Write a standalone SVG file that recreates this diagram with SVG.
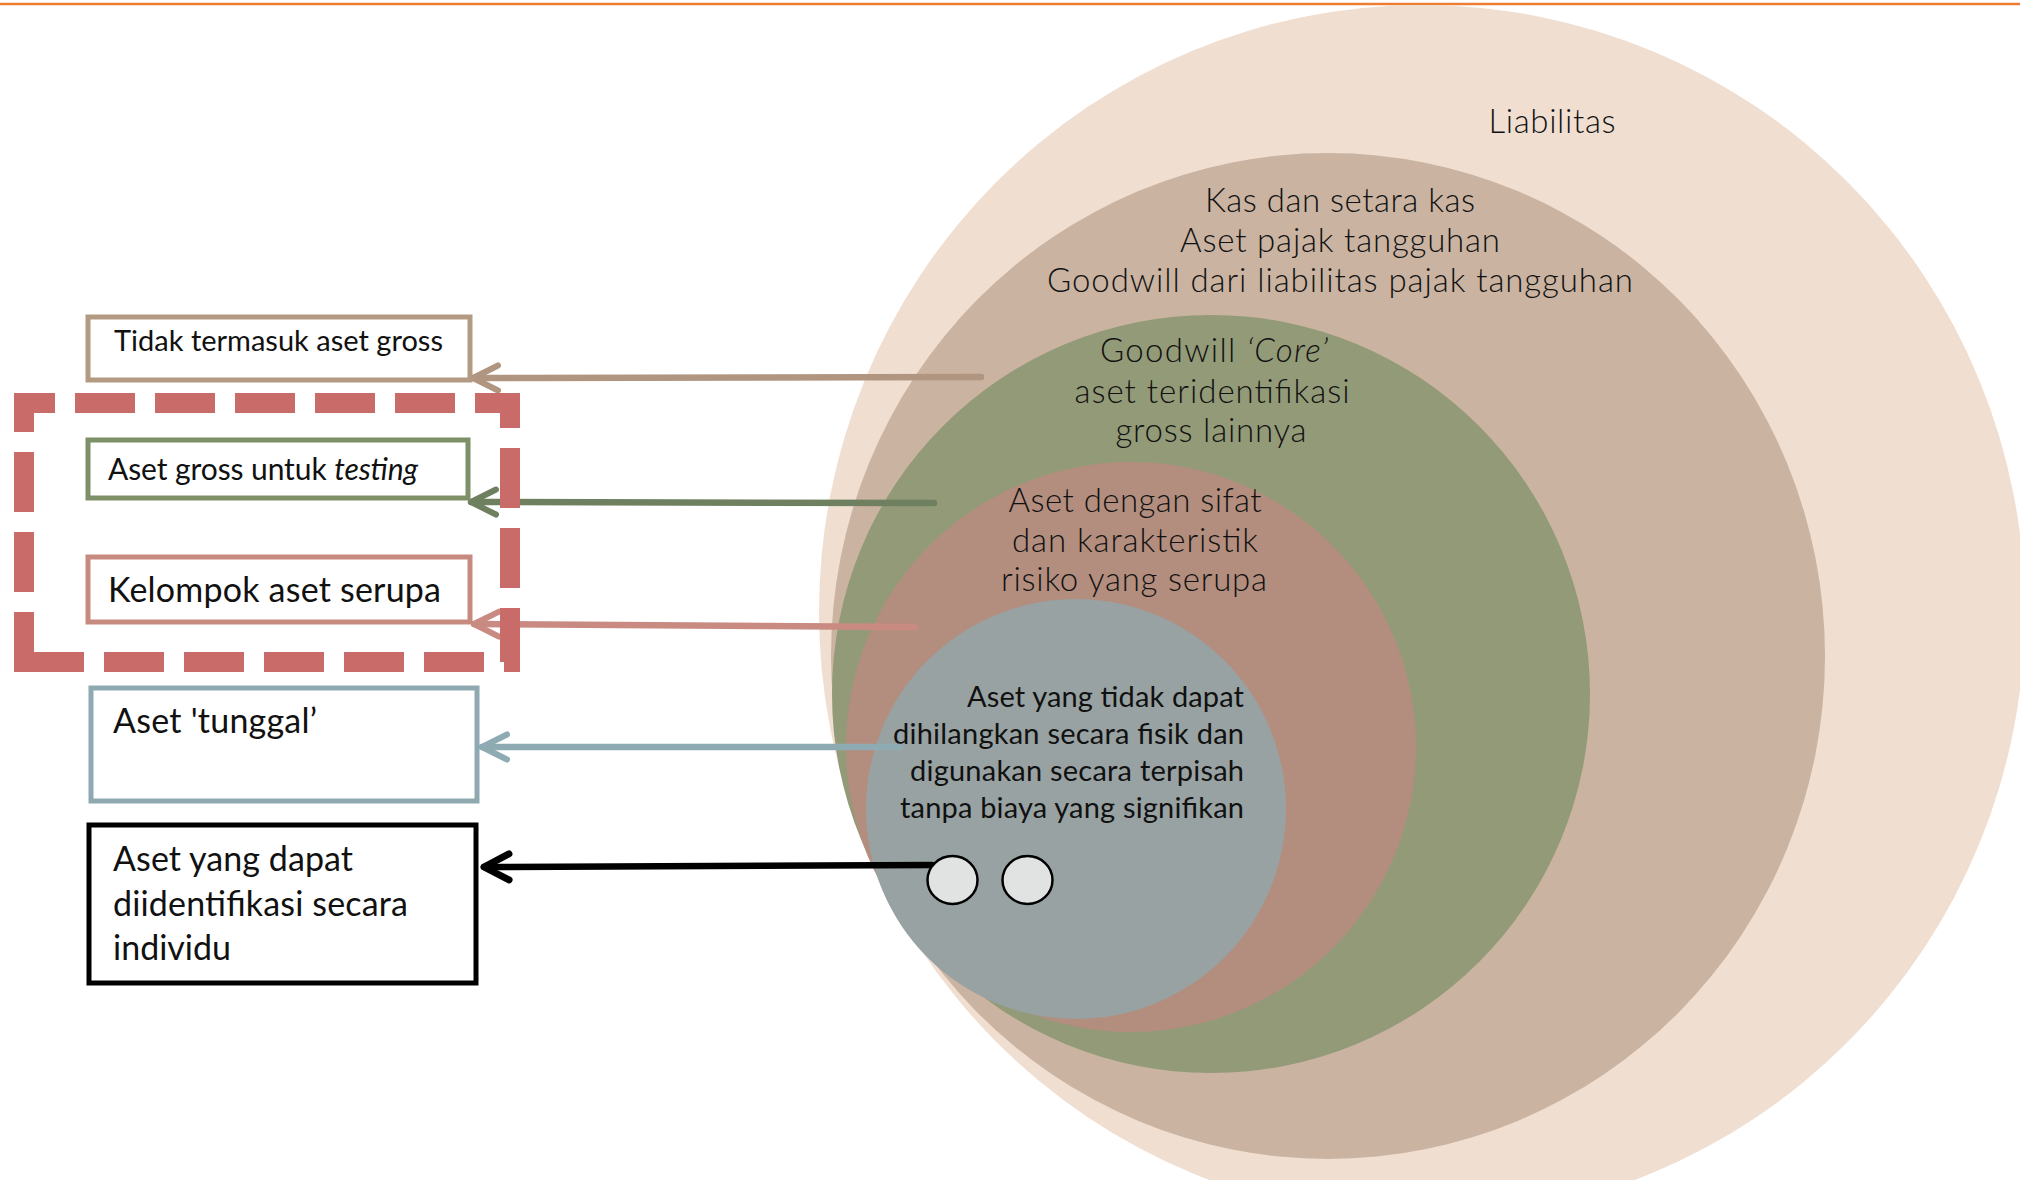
<svg xmlns="http://www.w3.org/2000/svg" width="2020" height="1180" viewBox="0 0 2020 1180">
<style>
.t{font-family:Lato,"Open Sans","Liberation Sans",sans-serif;fill:#111;}
.c{font-family:Lato,"Open Sans","Liberation Sans",sans-serif;fill:#111;font-size:33px;font-weight:300;text-anchor:middle;}
.box{fill:#fff;stroke-width:5;}
.conn{fill:none;stroke-width:6.5;stroke-linecap:round;}
</style>
<defs>
<marker id="mTan" viewBox="-32 -18 36 36" refX="0" refY="0" markerWidth="36" markerHeight="36" markerUnits="userSpaceOnUse" orient="auto"><path d="M-25,-12.5 L0,0 L-25,12.5" fill="none" stroke="#B09680" stroke-width="6" stroke-linecap="round" stroke-linejoin="round"/></marker>
<marker id="mGreen" viewBox="-32 -18 36 36" refX="0" refY="0" markerWidth="36" markerHeight="36" markerUnits="userSpaceOnUse" orient="auto"><path d="M-25,-12.5 L0,0 L-25,12.5" fill="none" stroke="#6F8060" stroke-width="6" stroke-linecap="round" stroke-linejoin="round"/></marker>
<marker id="mPink" viewBox="-32 -18 36 36" refX="0" refY="0" markerWidth="36" markerHeight="36" markerUnits="userSpaceOnUse" orient="auto"><path d="M-25,-12.5 L0,0 L-25,12.5" fill="none" stroke="#C98A82" stroke-width="6" stroke-linecap="round" stroke-linejoin="round"/></marker>
<marker id="mBlue" viewBox="-32 -18 36 36" refX="0" refY="0" markerWidth="36" markerHeight="36" markerUnits="userSpaceOnUse" orient="auto"><path d="M-25,-12.5 L0,0 L-25,12.5" fill="none" stroke="#8EAAB2" stroke-width="6" stroke-linecap="round" stroke-linejoin="round"/></marker>
<marker id="mBlack" viewBox="-32 -18 36 36" refX="0" refY="0" markerWidth="36" markerHeight="36" markerUnits="userSpaceOnUse" orient="auto"><path d="M-25,-13 L0,0 L-25,13" fill="none" stroke="#000" stroke-width="7" stroke-linecap="round" stroke-linejoin="round"/></marker>
</defs>
<rect x="0" y="0" width="2020" height="1180" fill="#fff"/>
<line x1="0" y1="4" x2="2020" y2="4" stroke="#ED7D31" stroke-width="2.5"/>

<g id="circle-liabilitas">
<ellipse cx="1422" cy="612" rx="603" ry="607" fill="#F0DED0"/>
<text class="c" x="1552" y="133" textLength="127">Liabilitas</text>
</g>
<g id="circle-kas">
<ellipse cx="1328" cy="656" rx="497" ry="503" fill="#CAB3A1"/>
<text class="c" x="1340" y="212" textLength="270">Kas dan setara kas</text>
<text class="c" x="1340" y="252" textLength="320">Aset pajak tangguhan</text>
<text class="c" x="1340" y="292" textLength="586">Goodwill dari liabilitas pajak tangguhan</text>
</g>
<g id="circle-goodwill">
<circle cx="1211" cy="694" r="379" fill="#939A78"/>
<text class="c" x="1214" y="362" textLength="228">Goodwill <tspan font-style="italic">‘Core’</tspan></text>
<text class="c" x="1212" y="403" textLength="275">aset teridentifikasi</text>
<text class="c" x="1211" y="442" textLength="191">gross lainnya</text>
</g>
<g id="circle-serupa">
<circle cx="1131" cy="747" r="285" fill="#B38E7E"/>
<text class="c" x="1135" y="512" textLength="253">Aset dengan sifat</text>
<text class="c" x="1135" y="552" textLength="246">dan karakteristik</text>
<text class="c" x="1134" y="591" textLength="266">risiko yang serupa</text>
</g>
<g id="circle-tunggal">
<circle cx="1076" cy="809" r="210" fill="#98A2A2"/>
<text class="t" font-size="29" text-anchor="end" x="1244" y="707" textLength="277">Aset yang tidak dapat</text>
<text class="t" font-size="29" text-anchor="end" x="1244" y="744" textLength="351">dihilangkan secara fisik dan</text>
<text class="t" font-size="29" text-anchor="end" x="1244" y="781" textLength="334">digunakan secara terpisah</text>
<text class="t" font-size="29" text-anchor="end" x="1244" y="818" textLength="344">tanpa biaya yang signifikan</text>
</g>

<g id="connectors">
<path class="conn" d="M981,377 L473,378" stroke="#B09680" marker-end="url(#mTan)"/>
<path class="conn" d="M934,503 L471,502" stroke="#6F8060" marker-end="url(#mGreen)"/>
<path class="conn" d="M915,627 L474,624" stroke="#C98A82" marker-end="url(#mPink)"/>
<path class="conn" d="M900,747 L482,747" stroke="#8EAAB2" marker-end="url(#mBlue)"/>
<path class="conn" d="M932,865 L484,867" stroke="#000" stroke-width="7" marker-end="url(#mBlack)"/>
</g>

<g id="asset-1">
<ellipse cx="952.5" cy="880" rx="25" ry="24" fill="#E1E2E2" stroke="#000" stroke-width="2.5"/>
</g>
<g id="asset-2">
<ellipse cx="1027.5" cy="880" rx="25" ry="24" fill="#E1E2E2" stroke="#000" stroke-width="2.5"/>
</g>

<g id="box-tidak">
<rect class="box" x="88" y="317" width="382" height="63" stroke="#B39A82"/>
<text class="t" font-size="29" x="114" y="351" textLength="329">Tidak termasuk aset gross</text>
</g>
<g id="box-testing">
<rect class="box" x="88" y="440" width="380" height="58" stroke="#7E9068"/>
<text class="t" font-size="30" x="108" y="480" textLength="310">Aset gross untuk <tspan font-style="italic">testing</tspan></text>
</g>
<g id="box-serupa">
<rect class="box" x="88" y="557" width="382" height="65" stroke="#C78A80"/>
<text class="t" font-size="34" x="108" y="602" textLength="333">Kelompok aset serupa</text>
</g>
<g id="group-dashed">
<path d="M24,662 V403 H510 V662 Z" fill="none" stroke="#C86B69" stroke-width="20" stroke-dasharray="60 20" stroke-dashoffset="10"/>
</g>
<g id="box-tunggal">
<rect class="box" x="91" y="688" width="386" height="113" stroke="#8EAAB0" stroke-width="5.5"/>
<text class="t" font-size="34" x="113" y="733" textLength="204">Aset 'tunggal’</text>
</g>
<g id="box-individu">
<rect class="box" x="89" y="825" width="387" height="158" stroke="#000" stroke-width="6"/>
<text class="t" font-size="34" x="113" y="871" textLength="240">Aset yang dapat</text>
<text class="t" font-size="34" x="113" y="916" textLength="295">diidentifikasi secara</text>
<text class="t" font-size="34" x="113" y="960" textLength="118">individu</text>
</g>
</svg>
